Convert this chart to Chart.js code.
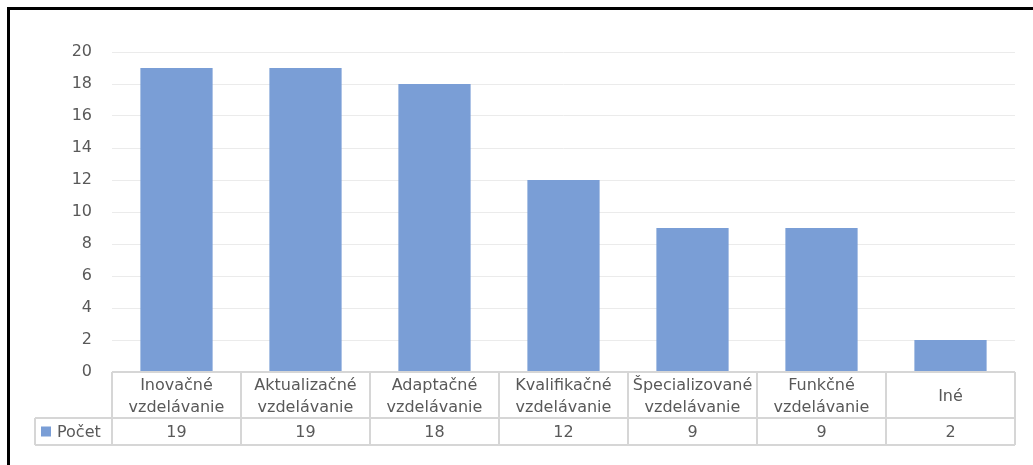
<!DOCTYPE html>
<html>
<head>
<meta charset="utf-8">
<style>
  html, body { margin: 0; padding: 0; background: #fff; }
  #wrap { width: 1033px; height: 465px; position: relative; }
</style>
<script src="https://cdn.jsdelivr.net/npm/chart.js@4/dist/chart.umd.min.js"></script>
</head>
<body>
<div id="wrap"><canvas id="c" width="1033" height="465"></canvas></div>
<script>
// Categories (two-line labels as shown in the data table)
const categories = [
  ['Inovačné', 'vzdelávanie'],
  ['Aktualizačné', 'vzdelávanie'],
  ['Adaptačné', 'vzdelávanie'],
  ['Kvalifikačné', 'vzdelávanie'],
  ['Špecializované', 'vzdelávanie'],
  ['Funkčné', 'vzdelávanie'],
  ['Iné']
];
const seriesName = 'Počet';
const counts = [19, 19, 18, 12, 9, 9, 2];
const yTicks = [0, 2, 4, 6, 8, 10, 12, 14, 16, 18, 20];

const BAR_COLOR = 'rgb(122,158,214)';
const TEXT_COLOR = '#595959';
const FONT = 'DejaVu Sans';

// Black frame on the top and left edges
const framePlugin = {
  id: 'frame',
  beforeDraw(chart) {
    const ctx = chart.ctx;
    ctx.save();
    ctx.fillStyle = '#000';
    ctx.fillRect(7, 7, chart.width - 7, 3);
    ctx.fillRect(7, 7, 3, chart.height - 7);
    ctx.restore();
  }
};

// Data table under the plot area: category names, legend key and values
const dataTablePlugin = {
  id: 'dataTable',
  afterDraw(chart) {
    const ctx = chart.ctx;
    const x = chart.scales.x;
    const area = chart.chartArea;
    const n = categories.length;
    const colW = (area.right - area.left) / n;
    const top = area.bottom;
    const mid = top + 46;
    const bottom = mid + 27;
    const legendLeft = 35;

    ctx.save();
    ctx.strokeStyle = '#D6D6D6';
    ctx.lineWidth = 2;
    ctx.beginPath();
    // horizontal rules
    ctx.moveTo(area.left, top); ctx.lineTo(area.right, top);
    ctx.moveTo(legendLeft, mid); ctx.lineTo(area.right, mid);
    ctx.moveTo(legendLeft, bottom); ctx.lineTo(area.right, bottom);
    // vertical rules
    for (let i = 0; i <= n; i++) {
      const px = area.left + i * colW;
      ctx.moveTo(px, top); ctx.lineTo(px, bottom);
    }
    ctx.moveTo(legendLeft, mid); ctx.lineTo(legendLeft, bottom);
    ctx.stroke();

    ctx.fillStyle = TEXT_COLOR;
    ctx.font = '16px "' + FONT + '"';
    ctx.textAlign = 'center';
    ctx.textBaseline = 'middle';
    const lineH = 22;
    const catMid = (top + mid) / 2 + 2;
    categories.forEach((lab, i) => {
      const cx = x.getPixelForValue(i);
      const lines = Array.isArray(lab) ? lab : [lab];
      const y0 = catMid - (lines.length - 1) * lineH / 2;
      lines.forEach((t, j) => ctx.fillText(t, cx, y0 + j * lineH));
      ctx.fillText(String(counts[i]), cx, (mid + bottom) / 2 + 1);
    });

    // legend key
    const rowMid = (mid + bottom) / 2;
    ctx.fillStyle = BAR_COLOR;
    ctx.fillRect(41, rowMid - 5, 10, 10);
    ctx.fillStyle = TEXT_COLOR;
    ctx.textAlign = 'left';
    ctx.fillText(seriesName, 57, rowMid + 1);
    ctx.restore();
  }
};

new Chart(document.getElementById('c'), {
  type: 'bar',
  data: {
    labels: categories,
    datasets: [{
      label: seriesName,
      data: counts,
      backgroundColor: BAR_COLOR,
      borderWidth: 0,
      barPercentage: 0.56,
      categoryPercentage: 1
    }]
  },
  options: {
    responsive: false,
    animation: false,
    layout: { padding: { left: 0, top: 52, right: 18, bottom: 93 } },
    plugins: { legend: { display: false }, tooltip: { enabled: false } },
    scales: {
      x: { display: false },
      y: {
        min: 0, max: 20,
        afterBuildTicks(scale) { scale.ticks = yTicks.map(v => ({ value: v })); },
        afterFit(scale) { scale.width = 112; },
        border: { display: false },
        grid: { color: '#EBEBEB', lineWidth: 1, drawTicks: false },
        ticks: {
          padding: 20,
          color: TEXT_COLOR,
          font: { family: FONT, size: 16 }
        }
      }
    }
  },
  plugins: [framePlugin, dataTablePlugin]
});
</script>
</body>
</html>
